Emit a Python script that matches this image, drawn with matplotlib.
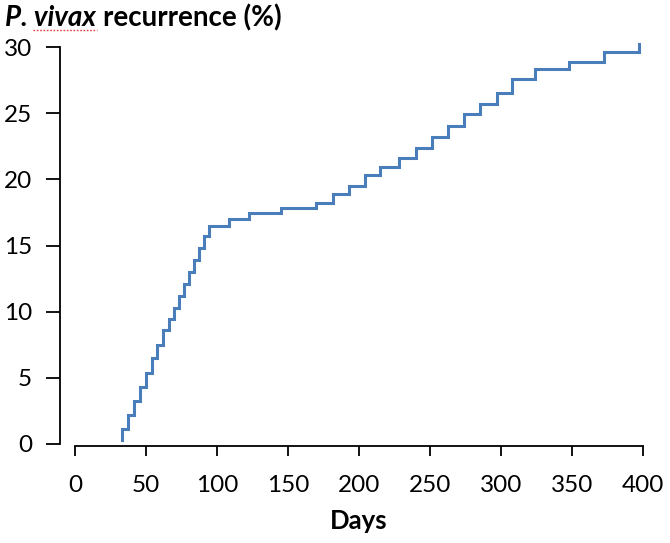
import matplotlib
matplotlib.use("Agg")
import matplotlib.pyplot as plt
from matplotlib.lines import Line2D

plt.rcParams['font.family'] = ['Lato', 'DejaVu Sans']

days = [33, 33, 37, 41.5, 45.5, 50, 54, 58, 62, 66, 69.5, 73, 77, 80.5, 84, 87.5, 91, 94.5,
        108.5, 122.5, 145, 170, 182, 193, 204, 214.5, 228.5, 240, 251.5, 262.5, 274, 285.5,
        297, 308, 324, 348, 372.5, 397]
recurrence = [0.3, 1.1, 2.2, 3.25, 4.3, 5.4, 6.5, 7.5, 8.6, 9.45, 10.3, 11.2, 12.1, 13.0, 13.9,
              14.8, 15.7, 16.45, 17.0, 17.45, 17.8, 18.2, 18.9, 19.5, 20.3, 20.9, 21.6, 22.4,
              23.2, 24.0, 24.9, 25.7, 26.55, 27.6, 28.3, 28.9, 29.6, 30.2]
xticks = [0, 50, 100, 150, 200, 250, 300, 350, 400]
yticks = [0, 5, 10, 15, 20, 25, 30]

W, H = 670, 543
fig = plt.figure(figsize=(W / 100, H / 100), dpi=100)
ax = fig.add_axes([75 / W, 99 / H, 568 / W, 397 / H])
ax.step(days, recurrence, where='post', color='#4A7EBB', lw=2.2, solid_joinstyle='miter',
        clip_on=False)
ax.set_xlim(0, 400)
ax.set_ylim(0, 30)
ax.set_xticks(xticks)
ax.set_yticks(yticks)
for s in ['top', 'right']:
    ax.spines[s].set_visible(False)
ax.spines['left'].set_position(('outward', 11))
ax.spines['bottom'].set_position(('outward', 1.5))
for s in ['left', 'bottom']:
    ax.spines[s].set_linewidth(1.3)
    ax.spines[s].set_color('black')
ax.tick_params(axis='both', direction='out', width=1.3, labelsize=17.5, colors='black')
ax.tick_params(axis='y', length=10, pad=10)
ax.tick_params(axis='x', length=7, pad=14)
ax.set_xlabel('Days', fontsize=18.5, fontweight='bold', labelpad=9)

ty = 1 - 18 / H
t1 = fig.text(5 / W, ty, 'P. vivax', fontsize=20, fontweight='bold', fontstyle='italic',
              va='center', ha='left')
fig.canvas.draw()
bb = t1.get_window_extent()
fig.text((bb.x1 + 7) / W, ty, 'recurrence (%)', fontsize=20, fontweight='bold',
         va='center', ha='left')
# spell-check style red underline under "vivax"
fig.add_artist(Line2D([33 / W, 97 / W], [1 - 30 / H, 1 - 30 / H], color='#E04040',
                      lw=1.0, ls=(0, (1.2, 1.2)), transform=fig.transFigure))

fig.savefig('out.png', dpi=100)
